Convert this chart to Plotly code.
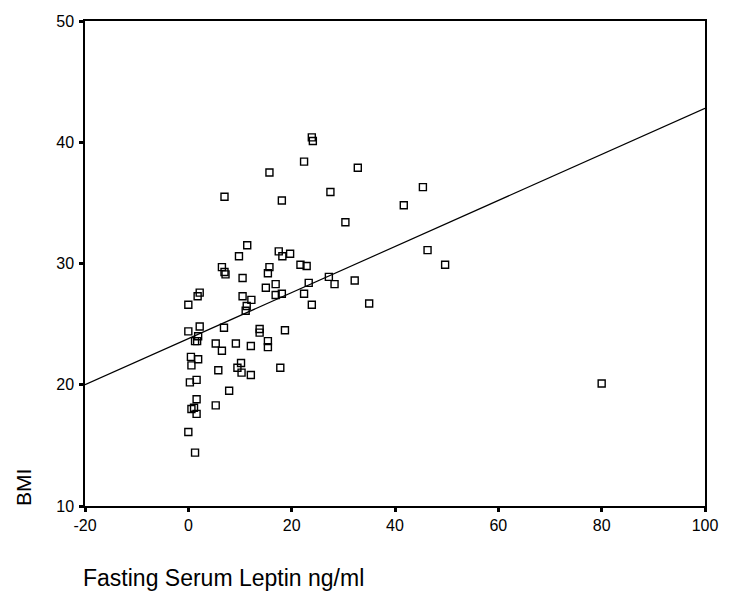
import plotly.graph_objects as go
import numpy as np

# Data
leptin = [23.9, 24.1, 22.4, 32.8, 15.7, 27.5, 7.0, 18.1, 30.4, 11.4,
          9.8, 17.5, 18.2, 19.7, 6.5, 7.0, 7.2, 15.7, 15.4, 21.7,
          22.9, 10.5, 27.2, 28.3, 32.2, 23.3, 15.0, 16.9, 2.2, 1.8,
          10.5, 12.2, 16.9, 18.1, 22.4, 0.0, 11.3, 11.1, 23.9, 0.0,
          2.2, 1.9, 1.3, 1.7, 6.9, 5.3, 6.5, 9.2, 12.1, 13.8,
          13.8, 15.4, 15.4, 18.7, 0.5, 1.9, 0.6, 5.8, 10.2, 9.5,
          10.3, 12.1, 17.8, 0.3, 1.6, 7.9, 1.6, 0.6, 1.1, 1.6,
          5.3, 0.0, 1.3, 45.4, 41.7, 46.3, 49.7, 35.0, 80.0]
bmi = [40.4, 40.1, 38.4, 37.9, 37.5, 35.9, 35.5, 35.2, 33.4, 31.5,
       30.6, 31.0, 30.6, 30.8, 29.7, 29.3, 29.1, 29.7, 29.2, 29.9,
       29.8, 28.8, 28.9, 28.3, 28.6, 28.4, 28.0, 28.3, 27.6, 27.3,
       27.3, 27.0, 27.4, 27.5, 27.5, 26.6, 26.5, 26.1, 26.6, 24.4,
       24.8, 24.0, 23.6, 23.6, 24.7, 23.4, 22.8, 23.4, 23.2, 24.6,
       24.3, 23.6, 23.1, 24.5, 22.3, 22.1, 21.6, 21.2, 21.8, 21.4,
       21.0, 20.8, 21.4, 20.2, 20.4, 19.5, 18.8, 18.0, 18.1, 17.6,
       18.3, 16.1, 14.4, 36.3, 34.8, 31.1, 29.9, 26.7, 20.1]

fit_intercept = 23.8
fit_slope = 0.19

x_range = [-20, 100]
y_range = [10, 50]
x_ticks = [-20, 0, 20, 40, 60, 80, 100]
y_ticks = [10, 20, 30, 40, 50]

fit_x = np.array(x_range, dtype=float)
fit_y = fit_intercept + fit_slope * fit_x

fig = go.Figure()
fig.add_trace(go.Scatter(
    x=fit_x, y=fit_y, mode="lines",
    line=dict(color="black", width=1.2),
    showlegend=False, hoverinfo="skip"))
fig.add_trace(go.Scatter(
    x=leptin, y=bmi, mode="markers",
    marker=dict(symbol="square-open", size=7, color="black",
                line=dict(width=1.4)),
    showlegend=False))

axis_common = dict(
    showgrid=False, zeroline=False, showline=True, linecolor="black",
    linewidth=1.5, mirror=True, ticks="outside", ticklen=4, tickwidth=3,
    tickcolor="black", tickfont=dict(family="Liberation Sans, Arial", size=16, color="black"),
)

fig.update_layout(
    width=730, height=594,
    margin=dict(l=85, r=16, t=21, b=88),
    paper_bgcolor="white", plot_bgcolor="white",
    xaxis=dict(range=x_range, tickvals=x_ticks, ticktext=[str(v) for v in x_ticks], **axis_common),
    yaxis=dict(range=y_range, tickvals=y_ticks, ticktext=[str(v) for v in y_ticks],
               ticklabelstandoff=2, **axis_common),
    font=dict(family="Liberation Sans, Arial", color="black"),
)

fig.add_annotation(
    text="Fasting Serum Leptin ng/ml", xref="paper", yref="paper",
    x=-0.006, y=-0.148, xanchor="left", yanchor="middle", showarrow=False,
    font=dict(family="Liberation Sans, Arial", size=23, color="black"))
fig.add_annotation(
    text="BMI", xref="paper", yref="paper",
    x=-0.1, y=0.037, xanchor="center", yanchor="middle", textangle=-90,
    showarrow=False,
    font=dict(family="Liberation Sans, Arial", size=21, color="black"))

fig.write_html("out.html")
